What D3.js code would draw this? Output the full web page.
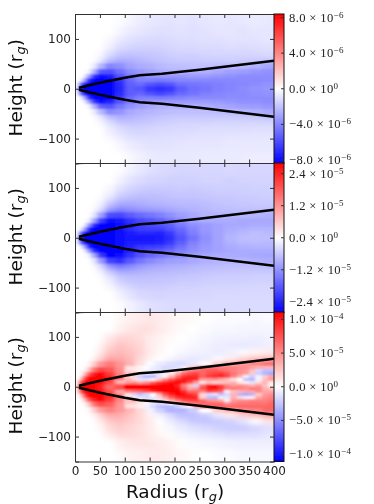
<!DOCTYPE html>
<html>
<head>
<meta charset="utf-8">
<script src="https://cdn.jsdelivr.net/npm/d3@7"></script>
<style>
  html, body { margin: 0; padding: 0; background: #fff; }
  svg { display: block; }
  .tick text { font-family: "DejaVu Sans", sans-serif; font-size: 12px; fill: #222; }
  .axis-label { font-family: "DejaVu Sans", sans-serif; font-size: 18.5px; fill: #111; }
  .cbar-label { font-family: "Liberation Serif", serif; font-size: 12.6px; fill: #222; }
</style>
</head>
<body>
<div id="chart"></div>
<script>
// cell edges of the heatmap grid
const radiusEdges = [8, 14, 22, 32, 45, 60, 80, 100, 120, 140, 160, 180, 200, 225, 250, 275, 300, 325, 350, 375, 400];
const heightEdges = [150, 125, 105, 90, 75, 62, 50, 40, 30, 22, 14, 6, -6, -14, -22, -30, -40, -50, -62, -75, -90, -105, -125, -150];

// percent of the colorbar limit, one line per height row (top to bottom)
const panel1Cells = [
  [0, 0, 0, 0, 0, 0, -1, -4, -7, -9, -10, -11, -10, -11, -10, -9, -10, -9, -8, -9],
  [0, 0, 0, 0, 0, 0, -4, -8, -10, -11, -12, -12, -11, -12, -11, -10, -10, -11, -10, -10],
  [0, 0, 0, 0, 0, -3, -9, -12, -14, -15, -15, -14, -13, -13, -12, -12, -11, -11, -11, -10],
  [0, 0, 0, 0, 0, -7, -14, -17, -18, -18, -18, -16, -15, -15, -14, -14, -13, -14, -13, -12],
  [0, 0, 0, 0, -3, -14, -22, -24, -23, -22, -21, -19, -18, -18, -17, -16, -17, -16, -16, -15],
  [0, 0, 0, 0, -10, -28, -34, -32, -29, -26, -24, -22, -21, -21, -20, -20, -19, -21, -21, -23],
  [0, 0, 0, -8, -30, -48, -44, -36, -33, -31, -28, -26, -25, -24, -24, -25, -26, -28, -31, -35],
  [0, 0, -4, -30, -65, -68, -56, -45, -40, -36, -32, -30, -30, -31, -31, -34, -37, -39, -41, -43],
  [0, -3, -35, -80, -95, -88, -68, -54, -46, -42, -40, -40, -40, -39, -39, -41, -43, -45, -45, -45],
  [-2, -30, -85, -100, -100, -98, -80, -60, -50, -50, -52, -50, -47, -47, -47, -47, -47, -46, -46, -45],
  [-55, -95, -100, -100, -100, -100, -84, -62, -58, -66, -70, -66, -56, -54, -52, -50, -48, -47, -45, -43],
  [-90, -100, -100, -100, -100, -100, -85, -64, -66, -78, -82, -78, -64, -57, -54, -50, -48, -45, -43, -41],
  [-55, -95, -100, -100, -100, -100, -84, -64, -60, -68, -72, -68, -58, -54, -50, -48, -46, -46, -44, -43],
  [-2, -30, -85, -100, -100, -98, -78, -58, -50, -50, -52, -50, -48, -46, -46, -46, -45, -45, -45, -45],
  [0, -3, -35, -78, -95, -86, -66, -52, -44, -41, -39, -39, -39, -38, -38, -39, -41, -43, -43, -45],
  [0, 0, -4, -30, -62, -66, -53, -43, -38, -34, -31, -30, -31, -31, -32, -34, -36, -38, -39, -41],
  [0, 0, 0, -8, -28, -46, -42, -34, -31, -29, -27, -26, -25, -25, -25, -26, -27, -29, -31, -34],
  [0, 0, 0, 0, -10, -26, -32, -30, -27, -25, -23, -22, -21, -21, -21, -21, -21, -21, -22, -24],
  [0, 0, 0, 0, -3, -13, -21, -23, -22, -21, -19, -18, -17, -17, -17, -16, -16, -16, -16, -16],
  [0, 0, 0, 0, 0, -7, -13, -16, -17, -16, -15, -15, -14, -14, -13, -13, -13, -13, -12, -12],
  [0, 0, 0, 0, 0, -3, -8, -12, -13, -13, -13, -12, -12, -11, -11, -11, -10, -10, -10, -10],
  [0, 0, 0, 0, 0, 0, -3, -7, -10, -11, -11, -11, -10, -10, -10, -10, -9, -9, -9, -9],
  [0, 0, 0, 0, 0, 0, 0, -3, -6, -8, -9, -9, -9, -9, -8, -8, -8, -8, -7, -7]
];

const panel2Cells = [
  [0, 0, 0, 0, 0, 0, -1, -5, -9, -12, -14, -15, -16, -16, -16, -16, -15, -16, -16, -16],
  [0, 0, 0, 0, 0, 0, -5, -11, -14, -16, -17, -18, -18, -18, -17, -17, -18, -17, -17, -17],
  [0, 0, 0, 0, 0, -4, -12, -17, -20, -21, -21, -21, -20, -21, -20, -19, -19, -19, -18, -18],
  [0, 0, 0, 0, -1, -9, -20, -24, -26, -26, -25, -24, -23, -23, -22, -21, -21, -20, -20, -19],
  [0, 0, 0, 0, -5, -22, -33, -34, -32, -30, -29, -28, -27, -27, -26, -24, -23, -22, -21, -21],
  [0, 0, 0, -1, -15, -42, -50, -46, -42, -40, -38, -35, -32, -30, -28, -26, -25, -25, -25, -25],
  [0, 0, 0, -10, -38, -70, -72, -64, -58, -54, -50, -44, -38, -34, -30, -29, -29, -29, -30, -31],
  [0, 0, -5, -35, -75, -95, -92, -80, -72, -68, -62, -54, -45, -37, -33, -33, -33, -34, -34, -34],
  [0, -3, -38, -85, -100, -100, -96, -86, -76, -72, -68, -62, -52, -44, -40, -36, -34, -34, -33, -33],
  [-2, -32, -88, -100, -100, -100, -95, -84, -76, -75, -75, -68, -58, -48, -40, -36, -33, -31, -29, -29],
  [-55, -95, -100, -100, -100, -100, -94, -88, -85, -85, -86, -78, -63, -50, -42, -36, -31, -28, -26, -27],
  [-85, -100, -100, -100, -100, -100, -95, -92, -92, -92, -90, -82, -68, -55, -44, -36, -29, -26, -25, -26],
  [-55, -95, -100, -100, -100, -100, -96, -90, -88, -88, -86, -78, -63, -50, -42, -36, -31, -28, -27, -28],
  [-2, -32, -88, -100, -100, -100, -96, -86, -78, -76, -74, -68, -56, -46, -40, -36, -33, -31, -30, -30],
  [0, -3, -38, -85, -100, -100, -98, -86, -74, -68, -63, -58, -50, -44, -39, -36, -34, -33, -33, -33],
  [0, 0, -5, -35, -78, -98, -96, -80, -68, -60, -54, -48, -44, -38, -35, -33, -33, -33, -34, -35],
  [0, 0, 0, -10, -40, -75, -80, -66, -54, -47, -42, -38, -37, -34, -31, -29, -29, -29, -31, -32],
  [0, 0, 0, -1, -16, -44, -55, -48, -40, -36, -34, -32, -31, -29, -27, -27, -26, -26, -26, -27],
  [0, 0, 0, 0, -5, -22, -33, -33, -31, -29, -28, -27, -26, -25, -23, -22, -22, -21, -21, -21],
  [0, 0, 0, 0, -1, -9, -20, -24, -24, -24, -23, -23, -21, -21, -20, -19, -19, -19, -18, -18],
  [0, 0, 0, 0, 0, -4, -12, -17, -20, -20, -20, -19, -18, -18, -17, -17, -17, -16, -16, -16],
  [0, 0, 0, 0, 0, 0, -5, -11, -15, -16, -17, -16, -16, -16, -16, -15, -15, -15, -15, -15],
  [0, 0, 0, 0, 0, 0, -1, -5, -9, -12, -13, -14, -14, -14, -14, -14, -14, -14, -14, -14]
];

const panel3Cells = [
  [0, 0, 0, 0, 0, 0, 3, 6, 8, 10, 8, 5, 3, 2, 0, -1, -2, -2, -3, -2],
  [0, 0, 0, 0, 0, 0, 6, 10, 12, 12, 8, 5, 2, 0, -2, -3, -3, -4, -4, -4],
  [0, 0, 0, 0, 1, 10, 16, 16, 13, 8, 5, 2, 0, -2, -4, -5, -6, -6, -7, -6],
  [0, 0, 0, 0, 5, 16, 24, 20, 16, 8, 4, 1, -1, -3, -5, -7, -8, -9, -8, -6],
  [0, 0, 0, 0, 10, 24, 28, 24, 18, 8, 3, 0, -3, -5, -6, -8, -6, -2, 4, 8],
  [0, 0, 0, 5, 20, 36, 34, 28, 15, 5, 0, -4, -8, -10, -8, -2, 8, 18, 28, 32],
  [0, 0, 3, 20, 42, 52, 42, 30, 12, -2, -8, -12, -14, -10, 2, 18, 30, 40, 48, 55],
  [0, 2, 20, 55, 72, 65, 45, 25, 0, -14, -16, -15, -8, 8, 28, 45, 55, 45, 10, -30],
  [0, 20, 65, 92, 100, 78, 50, 25, -5, -18, -18, -5, 12, 35, 55, 62, 65, 50, 5, -35],
  [10, 70, 100, 100, 100, 90, 60, 22, -25, -20, 0, 25, 55, 75, 75, 60, 35, -15, -25, 5],
  [65, 100, 100, 100, 100, 75, 30, 15, 15, 25, 55, 75, 85, 85, 70, 45, 30, 30, 35, 40],
  [100, 100, 100, 100, 90, 60, 70, 95, 100, 100, 100, 95, 85, 60, 45, 30, 50, 60, 45, 30],
  [65, 100, 100, 100, 100, 72, 35, 30, 40, 60, 80, 90, 90, 85, 55, -5, -25, -35, 20, 45],
  [10, 70, 100, 100, 100, 85, 55, 12, -25, -22, 10, 50, 75, 85, 30, -40, 15, 40, 55, 60],
  [0, 20, 65, 90, 100, 78, 48, 22, -8, -15, -5, 20, 50, 70, 60, 45, -15, 30, 50, 60],
  [0, 2, 20, 55, 70, 62, 42, 25, 8, -12, -25, -20, 0, 20, 40, 55, 60, 60, 62, 65],
  [0, 0, 3, 20, 40, 50, 40, 28, 15, -5, -18, -30, -30, -20, 0, 20, 30, 45, 50, 60],
  [0, 0, 0, 5, 20, 34, 32, 24, 15, 5, -6, -15, -25, -25, -20, -8, 8, 20, 30, 40],
  [0, 0, 0, 0, 10, 22, 26, 20, 15, 8, 0, -8, -15, -22, -24, -22, -18, -10, 0, 10],
  [0, 0, 0, 0, 4, 15, 20, 16, 12, 8, 2, -3, -8, -12, -15, -18, -20, -20, -16, -12],
  [0, 0, 0, 0, 1, 8, 14, 14, 12, 8, 4, 1, -3, -6, -8, -10, -12, -12, -12, -10],
  [0, 0, 0, 0, 0, 0, 6, 9, 10, 10, 8, 5, 1, -2, -3, -4, -5, -6, -6, -6],
  [0, 0, 0, 0, 0, 0, 2, 5, 6, 8, 8, 6, 3, 1, 0, -1, -2, -3, -3, -3]
];

// finer cells for the mottled disk of the bottom panel
const detailRadiusEdges = [100, 112.5, 125, 137.5, 150, 162.5, 175, 187.5, 200, 212.5, 225, 237.5, 250, 262.5, 275, 287.5, 300, 312.5, 325, 337.5, 350, 362.5, 375, 387.5, 400];
const detailHeightEdges = [42, 36, 30, 24, 18, 12, 6, 0, -6, -12, -18, -24, -30, -36, -42];
const panel3Detail = [
  [10, 10, 5, 0, -5, -10, -15, -15, -12, -5, 20, 30, 55, 55, 55, 50, 50, 50, 45, 45, 40, 35, 30, 30],
  [15, 10, 5, -5, -10, -10, -15, -5, 10, 35, 50, 55, 60, 65, 65, 60, 55, 50, 45, 40, 25, -15, -25, -25],
  [25, 25, 5, -5, -10, -12, -5, 10, 35, 60, 70, 75, 60, 70, 75, 80, 70, 55, 45, 40, 20, -20, -30, -35],
  [20, 15, -20, -30, -30, -10, 5, 30, 60, 80, 85, 85, 65, 80, 85, 90, 75, 50, 30, -5, -20, -5, 20, 35],
  [30, 15, -10, -10, 5, 25, 50, 70, 85, 95, 90, 85, 40, 40, 45, 35, 25, 10, 0, -25, -30, -5, 25, 40],
  [40, 45, 35, 45, 65, 80, 90, 95, 100, 90, 70, 40, 10, 25, 15, 20, 25, 30, 10, 5, -10, 15, 30, 10],
  [100, 100, 100, 100, 100, 100, 100, 100, 85, 50, 25, -15, 60, 90, 95, 75, 50, 40, 45, 40, 30, 40, 25, 5],
  [100, 100, 100, 100, 100, 100, 100, 100, 95, 60, 35, 40, 70, 95, 95, 80, 55, 55, 50, 45, 55, 50, 30, 25],
  [50, 55, 60, 70, 85, 95, 100, 100, 100, 85, 60, 60, 50, 75, 70, 60, -5, 25, 30, 35, 35, 45, 35, 35],
  [10, -15, -25, -15, 0, 30, 70, 90, 100, 95, 85, 75, 15, -15, -10, -25, -15, 30, -30, -35, -30, 20, 40, 45],
  [20, 10, -10, -15, -8, 15, 40, 65, 85, 90, 90, 90, 20, -25, -30, -5, -10, 30, 15, -5, 5, 35, 45, 50],
  [25, 35, 10, -5, -12, -10, 15, 35, 55, 70, 75, 75, 60, 45, 40, 35, -5, 40, 45, 45, 50, 50, 50, 55],
  [20, 15, 10, 5, -10, -15, -10, 0, 15, 40, 50, 55, 60, 60, 60, 60, 45, 50, 55, 55, 55, 55, 55, 60],
  [10, 10, 5, -5, -15, -25, -30, -30, -22, -10, 5, 30, 60, 60, 62, 62, 60, 60, 60, 60, 60, 60, 60, 60]
];

// the black curve, mirrored around the midplane
const lineRadius = [8, 25, 50, 75, 100, 130, 175, 250, 325, 400];
const lineHeight = [2, 6, 12, 17, 22, 27, 30, 38, 47, 56];

const radiusTicks = [0, 50, 100, 150, 200, 250, 300, 350, 400];
const heightTicks = [-100, 0, 100];

// colorbar limits and ticks: [mantissa, exponent, value]
const panel1Limit = 8.4e-6;
const panel1Bar = [["8.0", -6, 8e-6], ["4.0", -6, 4e-6], ["0.0", 0, 0], ["\u22124.0", -6, -4e-6], ["\u22128.0", -6, -8e-6]];
const panel2Limit = 2.8e-5;
const panel2Bar = [["2.4", -5, 2.4e-5], ["1.2", -5, 1.2e-5], ["0.0", 0, 0], ["\u22121.2", -5, -1.2e-5], ["\u22122.4", -5, -2.4e-5]];
const panel3Limit = 1.11e-4;
const panel3Bar = [["1.0", -4, 1e-4], ["5.0", -5, 5e-5], ["0.0", 0, 0], ["\u22125.0", -5, -5e-5], ["\u22121.0", -4, -1e-4]];

const panels = [
  { cells: panel1Cells, limit: panel1Limit, bar: panel1Bar, top: 14 },
  { cells: panel2Cells, limit: panel2Limit, bar: panel2Bar, top: 163 },
  { cells: panel3Cells, limit: panel3Limit, bar: panel3Bar, top: 312, detail: panel3Detail }
];

const left = 75, plotW = 199, plotH = 149.5, barW = 10;

const color = d3.scaleLinear().domain([-100, 0, 100]).range(["#0000ff", "#ffffff", "#ff0000"]);
const x = d3.scaleLinear().domain([0, 400]).range([0, plotW]);
const y = d3.scaleLinear().domain([-150, 150]).range([plotH, 0]);

const svg = d3.select("#chart").append("svg").attr("width", 374).attr("height", 504);
const defs = svg.append("defs");

// wide blur for the faint outer rows, narrow blur for the disk rows
const addBlur = (id, amount) => defs.append("filter").attr("id", id)
  .attr("x", "-10%").attr("y", "-10%").attr("width", "120%").attr("height", "120%")
  .append("feGaussianBlur").attr("stdDeviation", amount);
addBlur("softOuter", "3.2 2.6");
addBlur("softInner", "2.2 1.3");
addBlur("softDetail", "1.5 1");

const page = defs.append("filter").attr("id", "page")
  .attr("filterUnits", "userSpaceOnUse").attr("x", 0).attr("y", 0).attr("width", 374).attr("height", 504);
page.append("feGaussianBlur").attr("stdDeviation", 0.4);

defs.append("clipPath").attr("id", "plotClip").append("rect").attr("width", plotW).attr("height", plotH);

const grad = defs.append("linearGradient").attr("id", "barGrad").attr("x1", 0).attr("x2", 0).attr("y1", 0).attr("y2", 1);
grad.append("stop").attr("offset", "0%").attr("stop-color", color(100));
grad.append("stop").attr("offset", "50%").attr("stop-color", color(0));
grad.append("stop").attr("offset", "100%").attr("stop-color", color(-100));

const root = svg.append("g").attr("filter", "url(#page)");
root.append("rect").attr("width", 374).attr("height", 504).attr("fill", "#fff");

panels.forEach((p, i) => {
  const g = root.append("g").attr("transform", `translate(${left},${p.top})`);

  // ----- Heatmap -----
  const clipped = g.append("g").attr("clip-path", "url(#plotClip)");
  // outer cells run past the frame so the blur does not fade at the edges
  const drawCells = (filterId, table, xEdges, yEdges, keep, padY) => {
    const edgeX = c => c === xEdges.length - 1 ? x(xEdges[c]) + 20 : x(xEdges[c]);
    const edgeY = r => padY && r === 0 ? y(yEdges[r]) - 15 : padY && r === yEdges.length - 1 ? y(yEdges[r]) + 15 : y(yEdges[r]);
    const cellRows = table.flatMap((row, r) => row.map((v, c) => ({ v, r, c })));
    clipped.append("g").attr("filter", `url(#${filterId})`)
      .selectAll("rect")
      .data(cellRows.filter(keep))
      .enter()
      .append("rect")
      .attr("x", d => edgeX(d.c))
      .attr("y", d => edgeY(d.r))
      .attr("width", d => edgeX(d.c + 1) - edgeX(d.c))
      .attr("height", d => edgeY(d.r + 1) - edgeY(d.r))
      .attr("fill", d => color(d.v))
      .attr("shape-rendering", "crispEdges");
  };
  drawCells("softOuter", p.cells, radiusEdges, heightEdges, d => d.r <= 7 || d.r >= 15, true);
  drawCells("softInner", p.cells, radiusEdges, heightEdges, d => d.r >= 6 && d.r <= 16, true);
  if (p.detail) drawCells("softDetail", p.detail, detailRadiusEdges, detailHeightEdges, () => true, false);

  // ----- Black curves -----
  const upper = d3.line().x((d, k) => x(lineRadius[k])).y(d => y(d));
  const lower = d3.line().x((d, k) => x(lineRadius[k])).y(d => y(-d));
  [upper, lower].forEach(line => {
    g.append("path")
      .attr("d", line(lineHeight))
      .attr("fill", "none")
      .attr("stroke", "#000")
      .attr("stroke-width", 2.5);
  });

  // ----- Axes, ticks inside on every side -----
  const axisStyle = sel => {
    sel.selectAll(".domain").attr("stroke", "#333").attr("stroke-width", 1);
    sel.selectAll(".tick line").attr("stroke", "#333");
  };
  g.append("g").call(d3.axisLeft(y).tickValues(heightTicks).tickSize(-4).tickPadding(4)).call(axisStyle);
  g.append("g").attr("transform", `translate(${plotW},0)`)
    .call(d3.axisRight(y).tickValues(heightTicks).tickSize(-4).tickFormat("")).call(axisStyle);
  g.append("g").call(d3.axisTop(x).tickValues(radiusTicks).tickSize(-4).tickFormat("")).call(axisStyle);
  const bottom = g.append("g").attr("transform", `translate(0,${plotH})`)
    .call(d3.axisBottom(x).tickValues(radiusTicks).tickSize(-4).tickPadding(5));
  bottom.call(axisStyle);
  if (i < 2) bottom.selectAll("text").remove();

  // ----- Y Axis Label -----
  const yLabel = g.append("text")
    .attr("class", "axis-label")
    .attr("transform", `translate(-53,${plotH / 2 - 1}) rotate(-90)`)
    .attr("text-anchor", "middle");
  yLabel.append("tspan").text("Height (r");
  yLabel.append("tspan").attr("dy", 3).attr("font-size", 13).attr("font-style", "italic").text("g");
  yLabel.append("tspan").attr("dy", -3).text(")");

  // ----- Colorbar -----
  const barY = d3.scaleLinear().domain([-p.limit, p.limit]).range([plotH, 0]);
  const bar = g.append("g").attr("transform", `translate(${plotW},0)`);
  bar.append("rect")
    .attr("width", barW)
    .attr("height", plotH)
    .attr("fill", "url(#barGrad)")
    .attr("stroke", "#111")
    .attr("stroke-width", 1);
  p.bar.forEach(([mantissa, exp, value]) => {
    bar.append("line")
      .attr("x1", barW - 3).attr("x2", barW)
      .attr("y1", barY(value)).attr("y2", barY(value))
      .attr("stroke", "#333");
    const label = bar.append("text")
      .attr("class", "cbar-label")
      .attr("x", barW + 5)
      .attr("y", barY(value) + 4)
      .attr("letter-spacing", 0.35);
    label.append("tspan").text(`${mantissa} \u00d7 10`);
    label.append("tspan").attr("dy", -4).attr("font-size", 9)
      .text(String(exp).replace("-", "\u2212"));
  });
});

// ----- X Axis Label -----
const xLabel = root.append("text")
  .attr("class", "axis-label")
  .attr("x", 175)
  .attr("y", 498)
  .attr("text-anchor", "middle");
xLabel.append("tspan").text("Radius (r");
xLabel.append("tspan").attr("dy", 3).attr("font-size", 13).attr("font-style", "italic").text("g");
xLabel.append("tspan").attr("dy", -3).text(")");
</script>
</body>
</html>
